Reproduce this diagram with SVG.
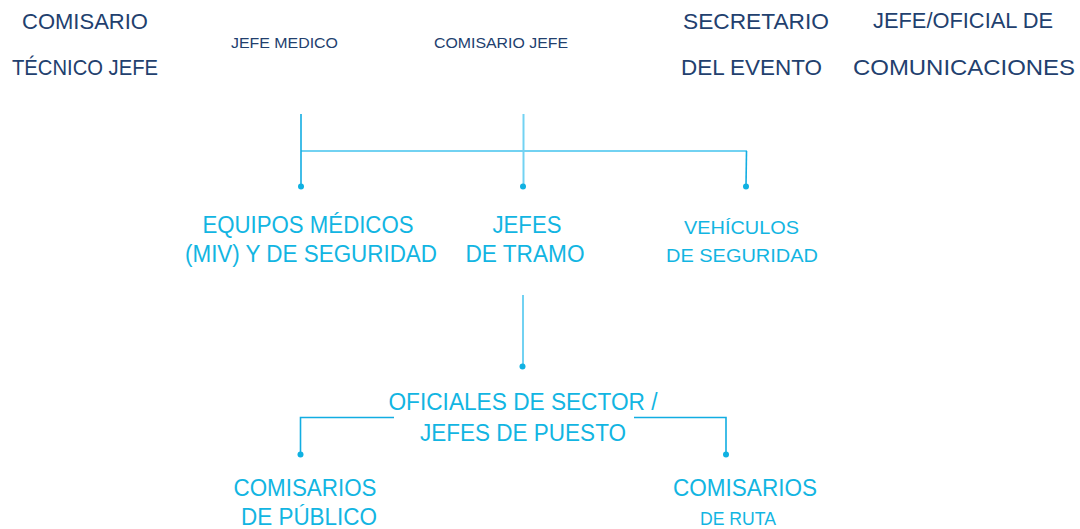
<svg xmlns="http://www.w3.org/2000/svg" width="1080" height="529" viewBox="0 0 1080 529">
<style>
text{font-family:"Liberation Sans",Arial,sans-serif;text-anchor:middle}
.n{fill:#22406e;font-size:22px}
.ns{fill:#22406e;font-size:15.5px}
.c{fill:#12b5e2;font-size:23px}
.cs{fill:#12b5e2;font-size:19px}
.d{stroke:#12ade2;stroke-width:1.6;fill:none}
.l{stroke:#72d2f2;stroke-width:2;fill:none}
.dot{fill:#0fb1e2}
</style>
<rect width="1080" height="529" fill="#fff"/>
<g id="connectors">
<line class="l" x1="301" y1="151" x2="747" y2="151"/>
<line class="d" x1="301" y1="114" x2="301" y2="186"/>
<line class="l" x1="523.5" y1="114" x2="523.5" y2="186"/>
<line class="d" x1="746.5" y1="151" x2="746" y2="186"/>
<circle class="dot" cx="301" cy="186.5" r="3"/>
<circle class="dot" cx="523" cy="186.5" r="3"/>
<circle class="dot" cx="746" cy="186.5" r="3"/>
<line class="l" x1="523" y1="295" x2="523" y2="366"/>
<circle class="dot" cx="522.5" cy="366.5" r="3"/>
<polyline class="d" points="394,417.5 300.5,417.5 300.5,454"/>
<circle class="dot" cx="300.5" cy="454.5" r="3"/>
<polyline class="d" points="634,417.5 726,417.5 726,454"/>
<circle class="dot" cx="726" cy="454.5" r="3"/>
</g>
<g id="comisario-tecnico-jefe">
<text class="n" x="85" y="29">COMISARIO</text>
<text class="n" x="85" y="75" textLength="146" lengthAdjust="spacingAndGlyphs">TÉCNICO JEFE</text>
</g>
<g id="jefe-medico"><text class="ns" x="284.5" y="48" textLength="107" lengthAdjust="spacingAndGlyphs">JEFE MEDICO</text></g>
<g id="comisario-jefe"><text class="ns" x="501" y="48" textLength="134" lengthAdjust="spacingAndGlyphs">COMISARIO JEFE</text></g>
<g id="secretario">
<text class="n" x="756" y="29" textLength="146" lengthAdjust="spacingAndGlyphs">SECRETARIO</text>
<text class="n" x="751.5" y="75" textLength="141" lengthAdjust="spacingAndGlyphs">DEL EVENTO</text>
</g>
<g id="comunicaciones">
<text class="n" x="963" y="28" textLength="180" lengthAdjust="spacingAndGlyphs">JEFE/OFICIAL DE</text>
<text class="n" x="964" y="75" textLength="222" lengthAdjust="spacingAndGlyphs">COMUNICACIONES</text>
</g>
<g id="equipos-medicos">
<text class="c" x="308" y="233" textLength="211" lengthAdjust="spacingAndGlyphs">EQUIPOS MÉDICOS</text>
<text class="c" x="311" y="262" textLength="252" lengthAdjust="spacingAndGlyphs">(MIV) Y DE SEGURIDAD</text>
</g>
<g id="jefes-de-tramo">
<text class="c" x="527" y="233" textLength="69" lengthAdjust="spacingAndGlyphs">JEFES</text>
<text class="c" x="525" y="262" textLength="119" lengthAdjust="spacingAndGlyphs">DE TRAMO</text>
</g>
<g id="vehiculos">
<text class="cs" x="741.5" y="234" textLength="115" lengthAdjust="spacingAndGlyphs">VEHÍCULOS</text>
<text class="cs" x="742" y="262" textLength="152" lengthAdjust="spacingAndGlyphs">DE SEGURIDAD</text>
</g>
<g id="oficiales">
<text class="c" x="523" y="410" textLength="269" lengthAdjust="spacingAndGlyphs">OFICIALES DE SECTOR /</text>
<text class="c" x="523" y="441" textLength="206" lengthAdjust="spacingAndGlyphs">JEFES DE PUESTO</text>
</g>
<g id="comisarios-publico">
<text class="c" x="305" y="496" textLength="143" lengthAdjust="spacingAndGlyphs">COMISARIOS</text>
<text class="c" x="309" y="525" textLength="136" lengthAdjust="spacingAndGlyphs">DE PÚBLICO</text>
</g>
<g id="comisarios-ruta">
<text class="c" x="745" y="496" textLength="144" lengthAdjust="spacingAndGlyphs">COMISARIOS</text>
<text class="cs" x="738" y="525" textLength="76" lengthAdjust="spacingAndGlyphs">DE RUTA</text>
</g>
</svg>
